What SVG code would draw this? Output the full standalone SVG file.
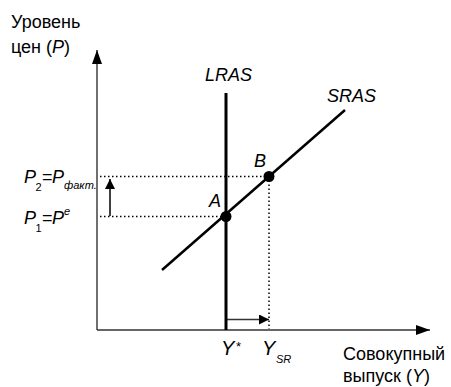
<svg xmlns="http://www.w3.org/2000/svg" width="451" height="387" viewBox="0 0 451 387">
<defs>
<marker id="ah" viewBox="0 0 10 10" refX="10" refY="5" markerWidth="10" markerHeight="10" markerUnits="userSpaceOnUse" orient="auto"><path d="M0,0 L10,5 L0,10 z" fill="#000"/></marker>
<marker id="ahb" viewBox="0 0 14 10" refX="14" refY="5" markerWidth="14" markerHeight="10" markerUnits="userSpaceOnUse" orient="auto"><path d="M0,0 L14,5 L0,10 z" fill="#000"/></marker>
</defs>
<style>
text{font-family:"Liberation Sans",Arial,sans-serif;fill:#000}
.lbl{font-size:18px}
.big{font-size:20px}
.it{font-style:italic}
.sub{font-size:11px}
.axis{stroke:#333;stroke-width:1.4;fill:none}
.dot{stroke:#000;stroke-width:1.5;stroke-dasharray:1.5 2.5;fill:none}
</style>
<g id="connectors">
<line class="axis" x1="97" y1="330" x2="97" y2="50" marker-end="url(#ahb)"/>
<line class="axis" x1="97" y1="330" x2="430" y2="330" marker-end="url(#ahb)"/>
<line class="dot" x1="100" y1="176.5" x2="269" y2="176.5"/>
<line class="dot" x1="100" y1="216.5" x2="226" y2="216.5"/>
<line class="dot" x1="269" y1="176.5" x2="269" y2="329"/>
<line stroke="#000" stroke-width="1.5" x1="110" y1="216" x2="110" y2="179" marker-end="url(#ah)"/>
<line stroke="#333" stroke-width="1.5" x1="226" y1="319.5" x2="269" y2="319.5" marker-end="url(#ah)"/>
</g>
<g id="LRAS">
<line x1="226" y1="93" x2="226" y2="330" stroke="#000" stroke-width="3"/>
<text class="lbl it" x="205" y="81">LRAS</text>
</g>
<g id="SRAS">
<line x1="162" y1="270" x2="345" y2="110" stroke="#000" stroke-width="2.5"/>
<text class="lbl it" x="327" y="102">SRAS</text>
</g>
<g id="A">
<circle cx="226" cy="216.5" r="5.5" fill="#000"/>
<text class="lbl it" x="209" y="207">A</text>
</g>
<g id="B">
<circle cx="269" cy="176.5" r="5.5" fill="#000"/>
<text class="lbl it" x="254" y="167">B</text>
</g>
<g id="ylabel">
<text class="lbl" x="11" y="28">Уровень</text>
<text class="lbl" x="11" y="53">цен (<tspan class="it">P</tspan>)</text>
</g>
<g id="xlabel">
<text class="lbl" x="343" y="360">Совокупный</text>
<text class="lbl" x="343" y="382">выпуск (<tspan class="it">Y</tspan>)</text>
</g>
<g id="P2">
<text class="lbl it" x="24" y="183">P</text>
<text class="sub" x="35.5" y="191">2</text>
<text class="lbl" x="42" y="183">=</text>
<text class="lbl it" x="52" y="183">P</text>
<text class="sub it" x="64" y="189">факт.</text>
</g>
<g id="P1">
<text class="lbl it" x="24" y="224">P</text>
<text class="sub" x="35.5" y="232">1</text>
<text class="lbl" x="42" y="224">=</text>
<text class="lbl it" x="52" y="224">P</text>
<text class="sub it" x="64" y="215">e</text>
</g>
<g id="Ystar">
<text class="big it" x="221" y="355">Y</text>
<text x="236" y="351" font-size="13">*</text>
</g>
<g id="YSR">
<text class="big it" x="262" y="355">Y</text>
<text class="sub it" x="276" y="363">SR</text>
</g>
</svg>
